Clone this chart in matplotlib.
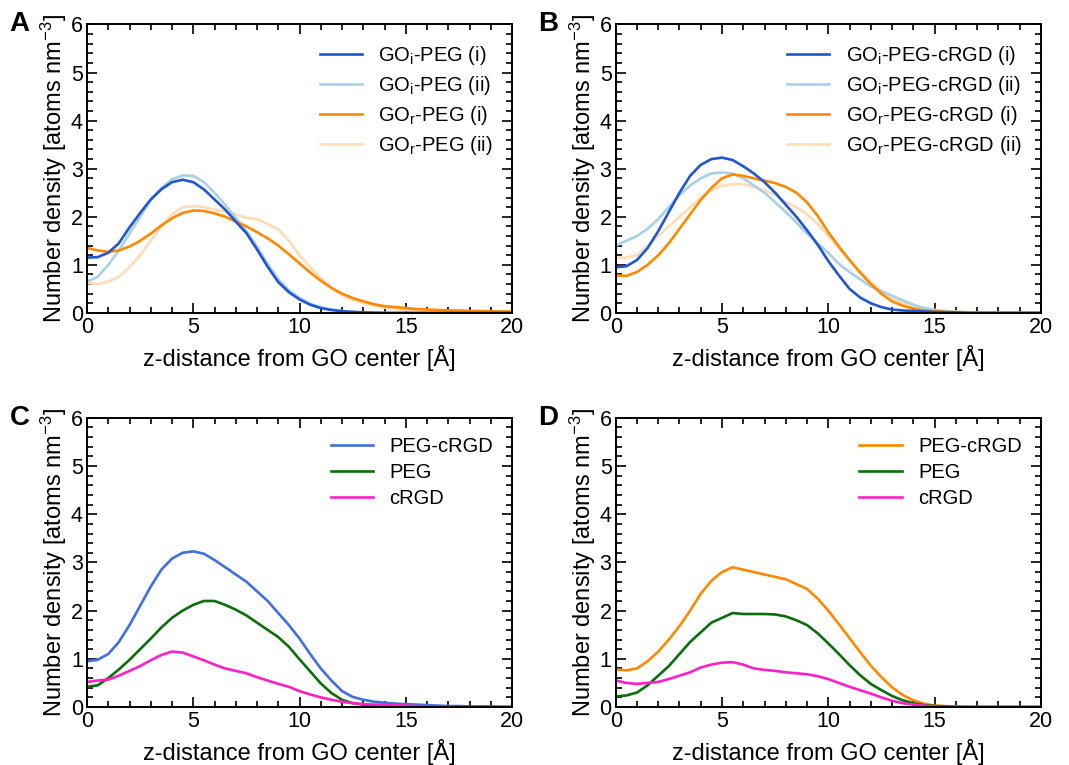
import numpy as np
import matplotlib
matplotlib.use("Agg")
from matplotlib import pyplot as plt
from matplotlib.ticker import MultipleLocator

plt.rcParams['font.family'] = ['Liberation Sans', 'DejaVu Sans']
plt.rcParams['mathtext.fontset'] = 'custom'
plt.rcParams['mathtext.rm'] = 'Liberation Sans'
plt.rcParams['mathtext.it'] = 'Liberation Sans:italic'

# z-distance grid (0.5 A steps)
z = np.arange(0, 20.01, 0.5)

# panel A
goi_peg_1 = [1.15, 1.16, 1.25, 1.45, 1.78, 2.08, 2.36, 2.57, 2.72, 2.77, 2.72, 2.57, 2.36, 2.15, 1.9, 1.66,
             1.32, 0.96, 0.64, 0.43, 0.28, 0.17, 0.1, 0.06, 0.035, 0.02, 0.01, 0.005, 0.0, 0.0,
             0, 0, 0, 0, 0, 0, 0, 0, 0, 0, 0]
goi_peg_2 = [0.65, 0.75, 1.0, 1.3, 1.65, 2.0, 2.35, 2.6, 2.78, 2.86, 2.85, 2.72, 2.5, 2.25, 1.98, 1.7,
             1.38, 1.02, 0.7, 0.47, 0.31, 0.19, 0.12, 0.07, 0.04, 0.02, 0.01, 0.005, 0.0, 0.0,
             0, 0, 0, 0, 0, 0, 0, 0, 0, 0, 0]
gor_peg_1 = [1.35, 1.3, 1.27, 1.3, 1.38, 1.5, 1.65, 1.82, 1.97, 2.08, 2.13, 2.12, 2.07, 2.0, 1.9, 1.8,
             1.68, 1.55, 1.4, 1.22, 1.03, 0.84, 0.67, 0.52, 0.4, 0.31, 0.24, 0.18, 0.14, 0.12,
             0.1, 0.08, 0.07, 0.06, 0.05, 0.05, 0.04, 0.04, 0.03, 0.03, 0.03]
gor_peg_2 = [0.62, 0.6, 0.65, 0.75, 0.95, 1.2, 1.5, 1.8, 2.05, 2.2, 2.22, 2.2, 2.15, 2.1, 2.05, 1.98,
             1.95, 1.85, 1.74, 1.5, 1.2, 0.95, 0.72, 0.52, 0.37, 0.27, 0.2, 0.15, 0.11, 0.08,
             0.06, 0.05, 0.04, 0.03, 0.03, 0.02, 0.02, 0.02, 0.02, 0.02, 0.02]

# panel B
goi_rgd_1 = [0.95, 0.97, 1.1, 1.35, 1.7, 2.1, 2.5, 2.85, 3.08, 3.2, 3.23, 3.18, 3.05, 2.9, 2.72, 2.5,
             2.25, 2.0, 1.72, 1.42, 1.08, 0.78, 0.5, 0.32, 0.2, 0.12, 0.07, 0.05, 0.04, 0.03,
             0.02, 0.01, 0.01, 0.0, 0, 0, 0, 0, 0, 0, 0]
goi_rgd_2 = [1.4, 1.5, 1.6, 1.75, 1.95, 2.2, 2.45, 2.65, 2.8, 2.9, 2.92, 2.9, 2.8, 2.65, 2.5, 2.3,
             2.1, 1.88, 1.65, 1.45, 1.25, 1.02, 0.85, 0.7, 0.55, 0.45, 0.36, 0.26, 0.17, 0.1,
             0.06, 0.04, 0.02, 0.01, 0.0, 0, 0, 0, 0, 0, 0]
gor_rgd_1 = [0.78, 0.77, 0.85, 1.0, 1.2, 1.45, 1.75, 2.05, 2.35, 2.6, 2.8, 2.88, 2.85, 2.8, 2.75, 2.7,
             2.62, 2.5, 2.3, 2.02, 1.68, 1.38, 1.1, 0.84, 0.6, 0.4, 0.24, 0.15, 0.09, 0.05,
             0.03, 0.02, 0.01, 0.0, 0, 0, 0, 0, 0, 0, 0]
gor_rgd_2 = [1.15, 1.15, 1.2, 1.4, 1.6, 1.8, 2.0, 2.2, 2.4, 2.55, 2.65, 2.68, 2.68, 2.62, 2.55, 2.45,
             2.3, 2.2, 2.05, 1.85, 1.6, 1.35, 1.1, 0.85, 0.65, 0.46, 0.31, 0.21, 0.14, 0.09,
             0.06, 0.04, 0.03, 0.02, 0.01, 0.01, 0, 0, 0, 0, 0]

# panel C (GOi)
c_pegrgd = [0.95, 0.98, 1.1, 1.35, 1.7, 2.1, 2.5, 2.85, 3.08, 3.2, 3.23, 3.18, 3.05, 2.9, 2.75, 2.6,
            2.4, 2.2, 1.95, 1.7, 1.42, 1.1, 0.8, 0.55, 0.33, 0.21, 0.15, 0.11, 0.09, 0.07,
            0.06, 0.05, 0.04, 0.03, 0.02, 0.02, 0.01, 0.01, 0.01, 0.0, 0.0]
c_peg = [0.42, 0.45, 0.6, 0.78, 0.98, 1.2, 1.42, 1.65, 1.85, 2.0, 2.12, 2.2, 2.2, 2.12, 2.02, 1.9,
         1.75, 1.6, 1.45, 1.25, 0.99, 0.74, 0.49, 0.29, 0.15, 0.08, 0.05, 0.03, 0.02, 0.01,
         0.01, 0, 0, 0, 0, 0, 0, 0, 0, 0, 0]
c_rgd = [0.52, 0.55, 0.57, 0.65, 0.75, 0.85, 0.97, 1.08, 1.15, 1.13, 1.05, 0.97, 0.88, 0.8, 0.75, 0.7,
         0.62, 0.55, 0.48, 0.42, 0.33, 0.26, 0.2, 0.15, 0.11, 0.08, 0.06, 0.05, 0.05, 0.04,
         0.03, 0.02, 0.01, 0.01, 0, 0, 0, 0, 0, 0, 0]

# panel D (GOr)
d_pegrgd = [0.78, 0.76, 0.8, 0.95, 1.15, 1.4, 1.68, 2.0, 2.35, 2.62, 2.8, 2.9, 2.85, 2.8, 2.75, 2.7,
            2.65, 2.55, 2.45, 2.25, 2.0, 1.72, 1.43, 1.14, 0.86, 0.62, 0.41, 0.25, 0.14, 0.07,
            0.03, 0.02, 0.01, 0.0, 0, 0, 0, 0, 0, 0, 0]
d_peg = [0.22, 0.24, 0.3, 0.45, 0.65, 0.85, 1.1, 1.35, 1.55, 1.75, 1.85, 1.95, 1.93, 1.93, 1.93, 1.92,
         1.88, 1.8, 1.7, 1.53, 1.32, 1.1, 0.87, 0.66, 0.48, 0.35, 0.23, 0.14, 0.08, 0.04,
         0.02, 0.01, 0.0, 0, 0, 0, 0, 0, 0, 0, 0]
d_rgd = [0.55, 0.5, 0.48, 0.5, 0.52, 0.58, 0.65, 0.72, 0.82, 0.88, 0.92, 0.93, 0.88, 0.8, 0.77, 0.75,
         0.72, 0.7, 0.68, 0.64, 0.58, 0.5, 0.42, 0.35, 0.28, 0.2, 0.13, 0.08, 0.05, 0.03,
         0.01, 0.0, 0, 0, 0, 0, 0, 0, 0, 0, 0]

DBLUE = '#2255d4'
LBLUE = '#a8d0e6'
ORANGE = '#ff8800'
LORANGE = '#ffdcb8'
CBLUE = '#3f6fe0'
GREEN = '#0b6e0b'
MAGENTA = '#ff1fc8'

panels = [
  ('A', [0.0814, 0.591, 0.3976, 0.377], [
    (goi_peg_1, DBLUE, 'GO$_\\mathrm{i}$-PEG (i)'),
    (goi_peg_2, LBLUE, 'GO$_\\mathrm{i}$-PEG (ii)'),
    (gor_peg_1, ORANGE, 'GO$_\\mathrm{r}$-PEG (i)'),
    (gor_peg_2, LORANGE, 'GO$_\\mathrm{r}$-PEG (ii)')]),
  ('B', [0.576, 0.591, 0.3976, 0.377], [
    (goi_rgd_1, DBLUE, 'GO$_\\mathrm{i}$-PEG-cRGD (i)'),
    (goi_rgd_2, LBLUE, 'GO$_\\mathrm{i}$-PEG-cRGD (ii)'),
    (gor_rgd_1, ORANGE, 'GO$_\\mathrm{r}$-PEG-cRGD (i)'),
    (gor_rgd_2, LORANGE, 'GO$_\\mathrm{r}$-PEG-cRGD (ii)')]),
  ('C', [0.0814, 0.0758, 0.3976, 0.378], [
    (c_pegrgd, CBLUE, 'PEG-cRGD'),
    (c_peg, GREEN, 'PEG'),
    (c_rgd, MAGENTA, 'cRGD')]),
  ('D', [0.576, 0.0758, 0.3976, 0.378], [
    (d_pegrgd, ORANGE, 'PEG-cRGD'),
    (d_peg, GREEN, 'PEG'),
    (d_rgd, MAGENTA, 'cRGD')]),
]

fig = plt.figure(figsize=(10.69, 7.65), dpi=100)

for letter, rect, series in panels:
  ax = fig.add_axes(rect)
  # light traces first so dark ones sit on top
  order = list(range(len(series)))
  if len(series) == 4:
    order = [3, 1, 2, 0]
  handles = {}
  for k in order:
    vals, col, lab = series[k]
    h, = ax.plot(z, vals, color=col, lw=1.9, label=lab)
    handles[k] = h
  ax.set_xlim(0, 20)
  ax.set_ylim(0, 6)
  ax.xaxis.set_major_locator(MultipleLocator(5))
  ax.xaxis.set_minor_locator(MultipleLocator(1))
  ax.yaxis.set_major_locator(MultipleLocator(1))
  ax.yaxis.set_minor_locator(MultipleLocator(0.2))
  ax.tick_params(which='both', direction='in', top=True, right=True, labelsize=15.5, width=1.2)
  ax.tick_params(which='major', length=7, pad=3)
  ax.tick_params(which='minor', length=4)
  for s in ax.spines.values():
    s.set_linewidth(1.4)
  ax.set_xlabel('z-distance from GO center [Å]', fontsize=17, labelpad=5)
  ax.set_ylabel('Number density [atoms nm$^{-3}$]', fontsize=17, labelpad=1)
  ax.legend([handles[k] for k in range(len(series))], [s[2] for s in series],
            loc='upper right', frameon=False, fontsize=14.5, handlelength=2.1,
            handletextpad=0.8, labelspacing=0.36, borderaxespad=0.55)
  ax.text(-0.182, 1.0, letter, transform=ax.transAxes, fontsize=20, fontweight='bold',
          ha='left', va='center')

fig.savefig('out.png', dpi=100)
